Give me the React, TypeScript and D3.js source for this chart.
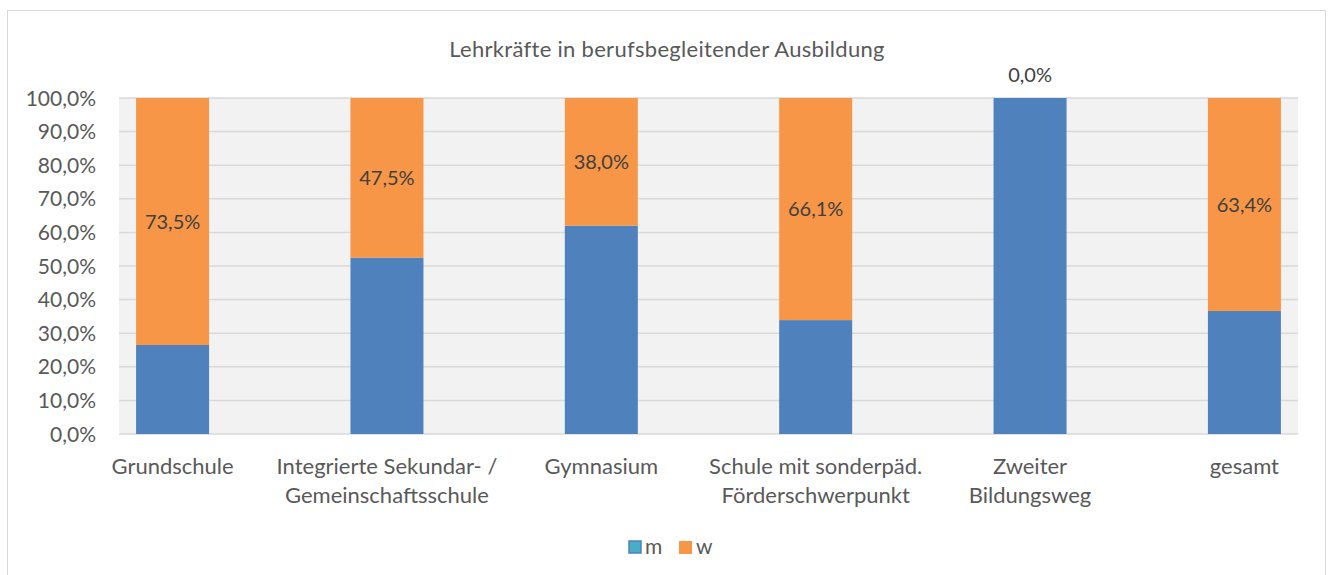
import React, { useRef, useEffect } from 'react';
import * as d3 from 'd3';

const categories: string[][] = [
  ['Grundschule'],
  ['Integrierte Sekundar- /', 'Gemeinschaftsschule'],
  ['Gymnasium'],
  ['Schule mit sonderpäd.', 'Förderschwerpunkt'],
  ['Zweiter', 'Bildungsweg'],
  ['gesamt'],
];
const mValues = [26.5, 52.5, 62.0, 33.9, 100.0, 36.6];
const wValues = [73.5, 47.5, 38.0, 66.1, 0.0, 63.4];
const yTicks = [0, 10, 20, 30, 40, 50, 60, 70, 80, 90, 100];

const fmt = (v: number) => v.toFixed(1).replace('.', ',') + '%';

const App: React.FC = () => {
  const ref = useRef<SVGSVGElement>(null);

  useEffect(() => {
    const svg = d3.select(ref.current);
    svg.selectAll('*').remove();
    const font = 'Lato, "Open Sans", sans-serif';
    const textColor = '#595959';

    const left = 119;
    const right = 1298;
    const top = 98;
    const bottom = 434;

    // outer frame
    svg.append('rect')
      .attr('x', 7.5).attr('y', 10.5)
      .attr('width', 1318).attr('height', 580)
      .attr('fill', '#fff').attr('stroke', '#d9d9d9');

    const x = d3.scalePoint<number>()
      .domain(d3.range(categories.length))
      .range([left, right])
      .padding(0.25);
    const y = d3.scaleLinear().domain([0, 100]).range([bottom, top]);
    const barW = 73;

    svg.append('rect')
      .attr('x', left).attr('y', top)
      .attr('width', right - left).attr('height', bottom - top)
      .attr('fill', '#f2f2f2');

    svg.append('g')
      .selectAll('line')
      .data(yTicks)
      .join('line')
      .attr('x1', left).attr('x2', right)
      .attr('y1', (d) => y(d)).attr('y2', (d) => y(d))
      .attr('stroke', '#d9d9d9').attr('stroke-width', 1.5);

    svg.append('g')
      .selectAll('text')
      .data(yTicks)
      .join('text')
      .attr('x', 96)
      .attr('y', (d) => y(d))
      .attr('dy', '0.36em')
      .attr('text-anchor', 'end')
      .attr('font-family', font)
      .attr('font-size', 21)
      .attr('fill', textColor)
      .text((d) => fmt(d));

    const bars = svg.append('g');
    bars.selectAll('rect.m')
      .data(mValues)
      .join('rect')
      .attr('class', 'm')
      .attr('x', (_, i) => (x(i) as number) - barW / 2)
      .attr('y', (d) => y(d))
      .attr('width', barW)
      .attr('height', (d) => y(0) - y(d))
      .attr('fill', '#4f81bd');
    bars.selectAll('rect.w')
      .data(wValues)
      .join('rect')
      .attr('class', 'w')
      .attr('x', (_, i) => (x(i) as number) - barW / 2)
      .attr('y', (d, i) => y(mValues[i] + d))
      .attr('width', barW)
      .attr('height', (d) => y(0) - y(d))
      .attr('fill', '#f79646');

    // data labels for w
    svg.append('g')
      .selectAll('text')
      .data(wValues)
      .join('text')
      .attr('x', (_, i) => x(i) as number)
      .attr('y', (d, i) => (d === 0 ? y(100) - 23 : y(mValues[i] + d / 2)))
      .attr('dy', '0.36em')
      .attr('text-anchor', 'middle')
      .attr('font-family', font)
      .attr('font-size', 20)
      .attr('fill', '#404040')
      .text((d) => fmt(d));

    // category labels
    const cat = svg.append('g')
      .selectAll('text')
      .data(categories)
      .join('text')
      .attr('x', (_, i) => x(i) as number)
      .attr('y', 474)
      .attr('text-anchor', 'middle')
      .attr('font-family', font)
      .attr('font-size', 22)
      .attr('fill', textColor);
    cat.selectAll('tspan')
      .data((d) => d)
      .join('tspan')
      .attr('x', function () {
        return (this.parentNode as SVGTextElement).getAttribute('x');
      })
      .attr('dy', (_, j) => (j === 0 ? 0 : 29))
      .text((d) => d);

    svg.append('text')
      .attr('x', 667).attr('y', 57)
      .attr('text-anchor', 'middle')
      .attr('font-family', font)
      .attr('font-size', 22)
      .attr('letter-spacing', 0.3)
      .attr('fill', textColor)
      .text('Lehrkräfte in berufsbegleitender Ausbildung');

    // legend
    const legend = svg.append('g');
    legend.append('rect')
      .attr('x', 629).attr('y', 541).attr('width', 12).attr('height', 12)
      .attr('fill', '#4bacc6').attr('stroke', '#4f81bd').attr('stroke-width', 1.5);
    legend.append('text')
      .attr('x', 645).attr('y', 554)
      .attr('font-family', font).attr('font-size', 21).attr('fill', textColor)
      .text('m');
    legend.append('rect')
      .attr('x', 679).attr('y', 541).attr('width', 13).attr('height', 13)
      .attr('fill', '#f79646');
    legend.append('text')
      .attr('x', 696).attr('y', 554)
      .attr('font-family', font).attr('font-size', 21).attr('fill', textColor)
      .text('w');
  }, []);

  return (
    <svg
      ref={ref}
      width={1331}
      height={575}
      style={{ position: 'absolute', left: 0, top: 0, display: 'block' }}
    />
  );
};

export default App;
